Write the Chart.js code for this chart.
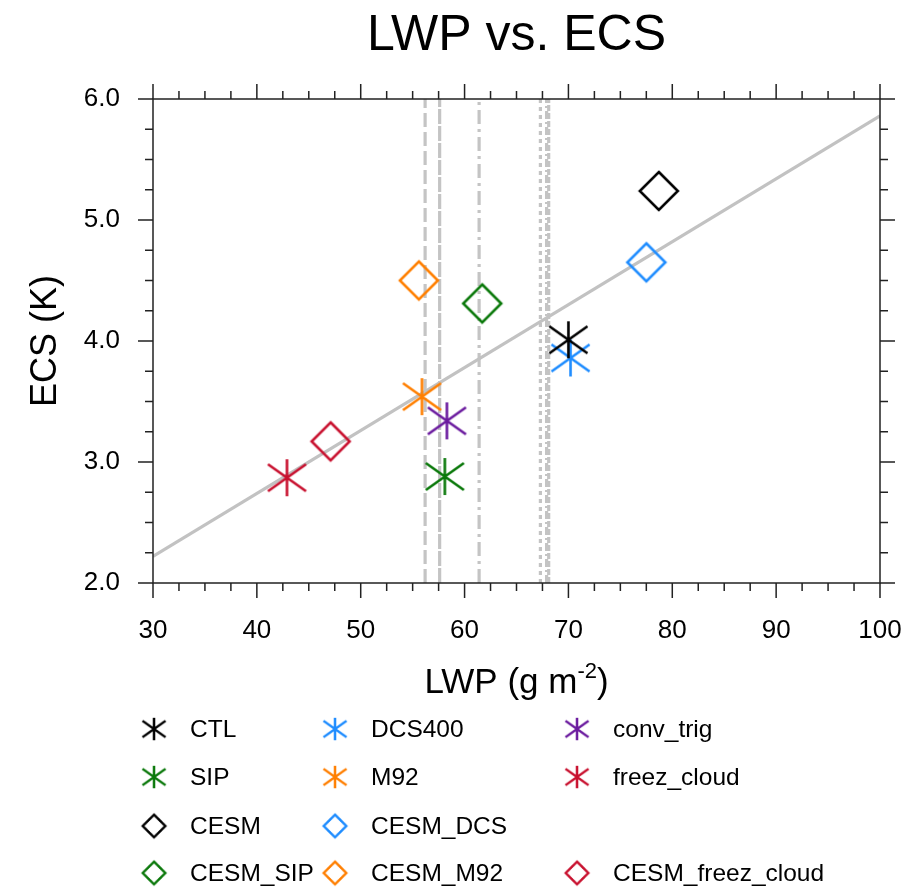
<!DOCTYPE html>
<html>
<head>
<meta charset="utf-8">
<title>LWP vs. ECS</title>
<script src="https://cdn.jsdelivr.net/npm/chart.js@4.4.0/dist/chart.umd.min.js"></script>
<style>
  html, body { margin:0; padding:0; background:#fff; }
  #wrap { position:relative; width:912px; height:889px; overflow:hidden; font-family:"Liberation Sans", Arial, sans-serif; }
  #chart { position:absolute; left:0; top:0; }
  #legend { position:absolute; left:0; top:0; width:912px; height:889px; pointer-events:none; }
  .item { position:absolute; display:flex; align-items:center; height:30px; font-size:24.5px; color:#000; white-space:nowrap; }
  .item canvas { width:30px; height:30px; margin-right:21px; }
</style>
</head>
<body>
<div id="wrap">
  <canvas id="chart" width="912" height="889"></canvas>
  <div id="legend"></div>
</div>
<script>
// model runs drawn with asterisks
const starNames = ['CTL', 'SIP', 'DCS400', 'M92', 'conv_trig', 'freez_cloud'];
const starLWP = [70.0, 58.1, 70.2, 55.9, 58.3, 42.9];
const starECS = [4.01, 2.88, 3.86, 3.54, 3.34, 2.87];

// CESM runs drawn with diamonds
const diaNames = ['CESM', 'CESM_DCS', 'CESM_SIP', 'CESM_M92', 'CESM_freez_cloud'];
const diaLWP = [78.7, 77.5, 61.7, 55.6, 47.1];
const diaECS = [5.24, 4.65, 4.31, 4.50, 3.17];

// observed LWP (vertical grey lines)
const obsLWP = [56.2, 57.6, 61.4, 67.3, 67.9, 68.1];

// regression line end points
const fitLWP = [30, 100];
const fitECS = [2.22, 5.86];

// legend layout (null = empty cell)
const legendRows = [
  ['CTL', 'DCS400', 'conv_trig'],
  ['SIP', 'M92', 'freez_cloud'],
  ['CESM', 'CESM_DCS', null],
  ['CESM_SIP', 'CESM_M92', 'CESM_freez_cloud']
];

const colors = {
  CTL:'#000000', CESM:'#000000',
  SIP:'#0a780a', CESM_SIP:'#0a780a',
  DCS400:'#1e8cff', CESM_DCS:'#1e8cff',
  M92:'#ff7f00', CESM_M92:'#ff7f00',
  conv_trig:'#6a1a9e',
  freez_cloud:'#c8102e', CESM_freez_cloud:'#c8102e'
};
const obsDash = [[14,5],[15,2],[14,5,3,5],[4,4],[8,3,2,3],[6,2]];
const FONT = '"Liberation Sans", Arial, sans-serif';

function makeMarker(kind, color, s){
  const c = document.createElement('canvas');
  const n = Math.ceil(s*2 + 8);
  c.width = n; c.height = n;
  const g = c.getContext('2d');
  const m = n/2;
  g.strokeStyle = color; g.lineWidth = 2.6;
  g.beginPath();
  if(kind === 'star'){
    g.moveTo(m, m - s); g.lineTo(m, m + s);
    g.moveTo(m - s*1.03, m - s*0.73); g.lineTo(m + s*1.03, m + s*0.73);
    g.moveTo(m - s*1.03, m + s*0.73); g.lineTo(m + s*1.03, m - s*0.73);
  } else {
    g.moveTo(m, m - s); g.lineTo(m + s, m); g.lineTo(m, m + s); g.lineTo(m - s, m); g.closePath();
  }
  g.stroke();
  return c;
}

const datasets = [];
starNames.forEach((n, i)=>{
  datasets.push({ label:n, data:[{x:starLWP[i], y:starECS[i]}], pointStyle:makeMarker('star', colors[n], 18.5), order:0 });
});
diaNames.forEach((n, i)=>{
  datasets.push({ label:n, data:[{x:diaLWP[i], y:diaECS[i]}], pointStyle:makeMarker('diamond', colors[n], 19), order:0 });
});
datasets.push({
  label:'fit', data:fitLWP.map((v,i)=>({x:v, y:fitECS[i]})), showLine:true,
  borderColor:'#c2c2c2', borderWidth:3.2, pointRadius:0, order:1
});
obsLWP.forEach((v, i)=>{
  datasets.push({
    label:'obs'+i, data:[{x:v, y:2}, {x:v, y:6}], showLine:true,
    borderColor:'#c4c4c4', borderWidth:3.2, borderDash:obsDash[i], pointRadius:0, order:2
  });
});

// frame with outward major/minor ticks on all four sides
const frameTicks = {
  id:'frameTicks',
  afterDraw(chart){
    const {ctx, chartArea:a, scales:{x, y}} = chart;
    ctx.save();
    ctx.strokeStyle = '#222';
    ctx.lineWidth = 1.5;
    ctx.strokeRect(a.left, a.top, a.right - a.left, a.bottom - a.top);
    ctx.beginPath();
    for(let k = 0; k <= 28; k++){
      const v = 30 + k*2.5;
      const px = x.getPixelForValue(v);
      const len = k % 4 === 0 ? 15 : 8;
      ctx.moveTo(px, a.bottom); ctx.lineTo(px, a.bottom + len);
      ctx.moveTo(px, a.top); ctx.lineTo(px, a.top - len);
    }
    for(let k = 0; k <= 16; k++){
      const v = 2 + k*0.25;
      const py = y.getPixelForValue(v);
      const len = k % 4 === 0 ? 15 : 8;
      ctx.moveTo(a.left, py); ctx.lineTo(a.left - len, py);
      ctx.moveTo(a.right, py); ctx.lineTo(a.right + len, py);
    }
    ctx.stroke();
    ctx.restore();
  }
};

// title and axis titles (x title needs a superscript)
const titles = {
  id:'titles',
  afterDraw(chart){
    const {ctx, chartArea:a} = chart;
    const cx = (a.left + a.right)/2;
    const cy = (a.top + a.bottom)/2;
    ctx.save();
    ctx.fillStyle = '#000';
    ctx.textAlign = 'center';
    ctx.textBaseline = 'alphabetic';
    ctx.font = '50px ' + FONT;
    ctx.fillText('LWP vs. ECS', cx, 50);

    ctx.font = '35px ' + FONT;
    const t1 = 'LWP (g m', t2 = '-2', t3 = ')';
    const w1 = ctx.measureText(t1).width, w3 = ctx.measureText(t3).width;
    ctx.font = '22px ' + FONT;
    const w2 = ctx.measureText(t2).width;
    let sx = cx - (w1 + w2 + w3)/2;
    ctx.textAlign = 'left';
    ctx.font = '35px ' + FONT;
    ctx.fillText(t1, sx, 693);
    ctx.font = '22px ' + FONT;
    ctx.fillText(t2, sx + w1, 678);
    ctx.font = '35px ' + FONT;
    ctx.fillText(t3, sx + w1 + w2, 693);

    ctx.translate(56, cy);
    ctx.rotate(-Math.PI/2);
    ctx.textAlign = 'center';
    ctx.font = '36px ' + FONT;
    ctx.fillText('ECS (K)', 0, 0);
    ctx.restore();
  }
};

new Chart(document.getElementById('chart'), {
  type:'scatter',
  data:{ datasets },
  options:{
    responsive:false,
    animation:false,
    devicePixelRatio:1,
    layout:{ padding:{ left:0, right:32, top:99, bottom:0 } },
    plugins:{ legend:{ display:false }, tooltip:{ enabled:false } },
    scales:{
      x:{
        type:'linear', min:30, max:100,
        afterFit(s){ s.height = 306; s.paddingLeft = 0; s.paddingRight = 0; },
        grid:{ display:false, drawTicks:false },
        border:{ display:false },
        ticks:{ stepSize:10, padding:32, color:'#000', font:{ size:26, family:FONT } }
      },
      y:{
        type:'linear', min:2, max:6,
        afterFit(s){ s.width = 153; s.paddingTop = 0; s.paddingBottom = 0; },
        grid:{ display:false, drawTicks:false },
        border:{ display:false },
        ticks:{ stepSize:1, padding:33, color:'#000', font:{ size:26, family:FONT }, callback:v=>v.toFixed(1) }
      }
    }
  },
  plugins:[frameTicks, titles]
});

// legend in 3 columns
const legend = document.getElementById('legend');
const colX = [154, 335, 577];
const rowY = [729, 777, 826, 873];
legendRows.forEach((row, r)=>{
  row.forEach((name, c)=>{
    if(!name) return;
    const kind = starNames.includes(name) ? 'star' : 'diamond';
    const item = document.createElement('div');
    item.className = 'item';
    item.style.left = (colX[c] - 15) + 'px';
    item.style.top = (rowY[r] - 15) + 'px';
    const icon = makeMarker(kind, colors[name], kind === 'star' ? 12 : 12.5);
    const span = document.createElement('span');
    span.textContent = name;
    item.appendChild(icon);
    item.appendChild(span);
    legend.appendChild(item);
  });
});
</script>
</body>
</html>
